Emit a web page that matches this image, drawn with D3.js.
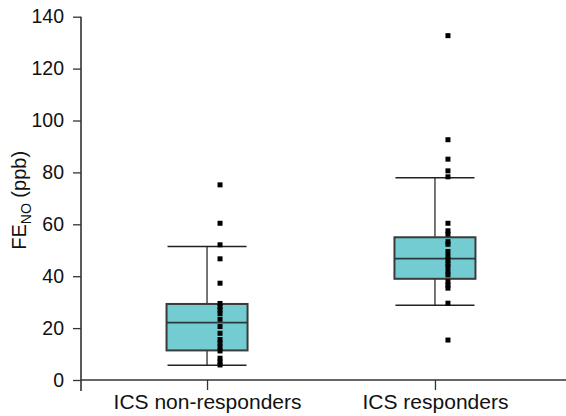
<!DOCTYPE html>
<html>
<head>
<meta charset="utf-8">
<script src="https://cdn.jsdelivr.net/npm/d3@7/dist/d3.min.js"></script>
<style>
  html, body { margin: 0; padding: 0; background: #fff; }
  svg text { font-family: "Liberation Sans", Arial, Helvetica, sans-serif; fill: #111; -webkit-font-smoothing: antialiased; }
</style>
</head>
<body>
<svg id="chart" width="566" height="416"></svg>
<script>
// Groups and their box summaries (FeNO, ppb)
const categories = ["ICS non-responders", "ICS responders"];
const whiskerLow  = [5.7, 28.8];
const quartile1   = [11.4, 39.0];
const medians     = [22.1, 46.8];
const quartile3   = [29.3, 55.0];
const whiskerHigh = [51.4, 77.9];

// Individual patient measurements per group
const nonResponderValues = [75.2, 60.4, 52.1, 46.7, 37.3, 29.5, 28.3, 27.0, 25.6, 23.4,
  20.6, 18.0, 15.6, 14.2, 12.7, 11.2, 8.4, 7.0, 5.8];
const responderValues = [132.7, 92.6, 85.1, 80.6, 78.3, 60.4, 57.5, 56.2, 53.3, 52.3,
  49.5, 47.6, 46.2, 44.8, 43.6, 41.8, 40.5, 37.9, 36.6, 35.4, 29.6, 15.4];
const pointValues = [nonResponderValues, responderValues];

const yTicks = [0, 20, 40, 60, 80, 100, 120, 140];

(function draw() {
  const svg = d3.select("#chart");
  const plotLeft = 81, plotRight = 561, plotTop = 16.7, plotBottom = 380;

  const x = d3.scalePoint().domain(categories).range([plotLeft, plotRight]).padding(0.553);
  const y = d3.scaleLinear().domain([0, 140]).range([plotBottom, plotTop]);

  const axisColor = "#333";

  // Y axis
  const yAxis = svg.append("g")
    .attr("transform", `translate(${plotLeft},0)`)
    .call(d3.axisLeft(y).tickValues(yTicks).tickSize(8).tickPadding(9).tickSizeOuter(0));
  yAxis.select(".domain").remove();
  yAxis.selectAll(".tick line").attr("stroke", axisColor).attr("stroke-width", 1.3);
  yAxis.selectAll(".tick text").style("font-size", "19.5px").attr("fill", "#111");
  svg.append("line")
    .attr("x1", plotLeft).attr("x2", plotLeft)
    .attr("y1", y(140)).attr("y2", plotBottom + 11)
    .attr("stroke", axisColor).attr("stroke-width", 1.6);

  // X axis
  const xAxis = svg.append("g")
    .attr("transform", `translate(0,${plotBottom})`)
    .call(d3.axisBottom(x).tickSize(10).tickPadding(4).tickSizeOuter(0));
  xAxis.select(".domain").remove();
  xAxis.selectAll(".tick line").attr("stroke", axisColor).attr("stroke-width", 1.3);
  xAxis.selectAll(".tick text").style("font-size", "21px").attr("fill", "#111");
  svg.append("line")
    .attr("x1", plotLeft).attr("x2", 566)
    .attr("y1", plotBottom).attr("y2", plotBottom)
    .attr("stroke", axisColor).attr("stroke-width", 1.3);

  // Y axis title with subscript
  const title = svg.append("text")
    .attr("transform", `translate(26,${(y(140) + plotBottom) / 2 + 2}) rotate(-90)`)
    .attr("text-anchor", "middle")
    .attr("fill", "#111")
    .style("font-size", "20px");
  title.append("tspan").attr("fill", "#111").text("FE");
  title.append("tspan").attr("fill", "#111").text("NO").attr("dy", 5).style("font-size", "14px");
  title.append("tspan").attr("fill", "#111").text(" (ppb)").attr("dy", -5);

  // Box plots
  const boxW = 81, capW = 79;
  const groups = categories.map((c, i) => ({
    cat: c, lo: whiskerLow[i], q1: quartile1[i], med: medians[i], q3: quartile3[i], hi: whiskerHigh[i]
  }));

  const g = svg.append("g").selectAll("g").data(groups).join("g");

  // whisker stems
  g.append("line")
    .attr("x1", d => x(d.cat)).attr("x2", d => x(d.cat))
    .attr("y1", d => y(d.hi)).attr("y2", d => y(d.q3))
    .attr("stroke", "#555").attr("stroke-width", 1.6);
  g.append("line")
    .attr("x1", d => x(d.cat)).attr("x2", d => x(d.cat))
    .attr("y1", d => y(d.q1)).attr("y2", d => y(d.lo))
    .attr("stroke", "#555").attr("stroke-width", 1.6);
  // whisker caps
  g.append("line")
    .attr("x1", d => x(d.cat) - capW / 2).attr("x2", d => x(d.cat) + capW / 2)
    .attr("y1", d => y(d.hi)).attr("y2", d => y(d.hi))
    .attr("stroke", "#222").attr("stroke-width", 1.5);
  g.append("line")
    .attr("x1", d => x(d.cat) - capW / 2).attr("x2", d => x(d.cat) + capW / 2)
    .attr("y1", d => y(d.lo)).attr("y2", d => y(d.lo))
    .attr("stroke", "#222").attr("stroke-width", 1.5);
  // box
  g.append("rect")
    .attr("x", d => x(d.cat) - boxW / 2).attr("width", boxW)
    .attr("y", d => y(d.q3)).attr("height", d => y(d.q1) - y(d.q3))
    .attr("fill", "#72CCD2").attr("stroke", "#3a3a3a").attr("stroke-width", 2);
  // median
  g.append("line")
    .attr("x1", d => x(d.cat) - boxW / 2).attr("x2", d => x(d.cat) + boxW / 2)
    .attr("y1", d => y(d.med)).attr("y2", d => y(d.med))
    .attr("stroke", "#2a3a3c").attr("stroke-width", 1.8);

  // Individual points (square markers beside the box centre)
  const pts = [];
  categories.forEach((c, i) => pointValues[i].forEach(v => pts.push({ cat: c, v })));
  const s = 5;
  svg.append("g").selectAll("rect").data(pts).join("rect")
    .attr("x", d => x(d.cat) + 13 - s / 2)
    .attr("y", d => y(d.v) - s / 2)
    .attr("width", s).attr("height", s)
    .attr("fill", "#000");
})();
</script>
</body>
</html>
